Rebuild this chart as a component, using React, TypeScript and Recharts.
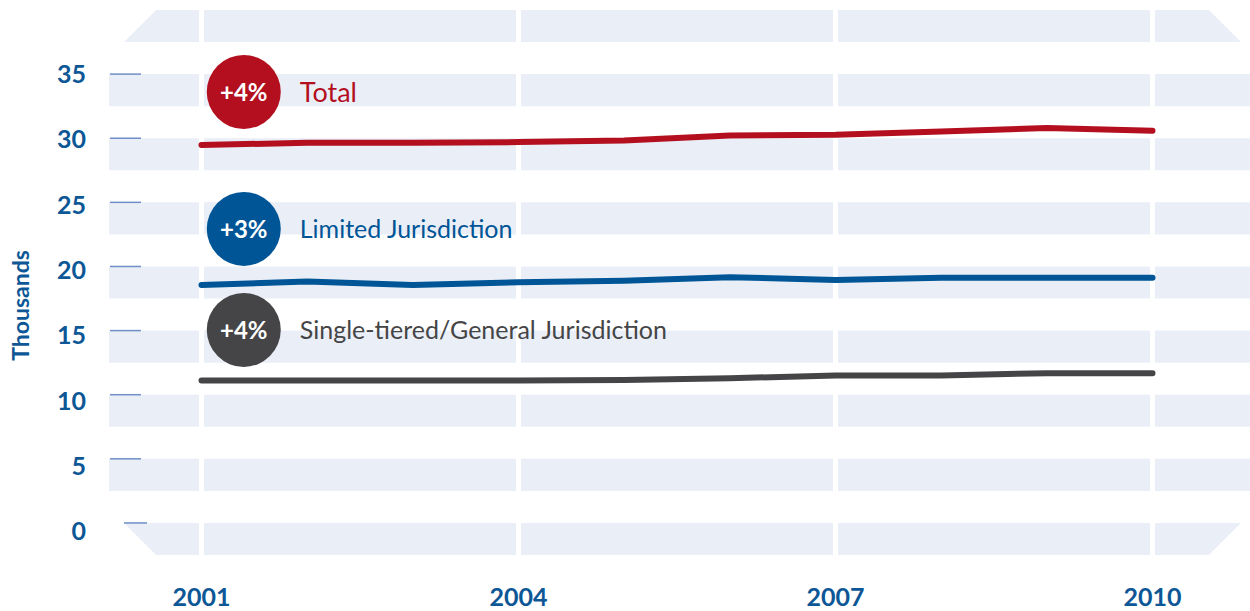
import React from 'react';
import {
  LineChart, Line, XAxis, YAxis, ReferenceArea, ReferenceLine, ReferenceDot,
} from 'recharts';

const years = [2001, 2002, 2003, 2004, 2005, 2006, 2007, 2008, 2009, 2010];
const totalValues = [29.48, 29.64, 29.64, 29.7, 29.82, 30.21, 30.27, 30.52, 30.79, 30.58];
const limitedValues = [18.56, 18.82, 18.56, 18.77, 18.88, 19.16, 18.95, 19.13, 19.13, 19.13];
const singleValues = [11.1, 11.1, 11.1, 11.1, 11.15, 11.29, 11.49, 11.49, 11.68, 11.68];

const yTicks = [0, 5, 10, 15, 20, 25, 30, 35];
const bandTops = [0, 5, 10, 15, 20, 25, 30, 35, 40];
const xTicks = [2001, 2004, 2007, 2010];

const seriesNames = ['Total', 'Limited Jurisdiction', 'Single-tiered/General Jurisdiction'];
const seriesChanges = ['+4%', '+3%', '+4%'];
const seriesKeys = ['total', 'limited', 'single'];
const seriesColors = ['#B30F1F', '#005596', '#454547'];
// annotation anchor positions (data coordinates)
const badgeX = 2001.4;
const badgeY = [33.61, 22.93, 15.05];

const data = years.map((y, i) => ({
  year: y,
  total: totalValues[i],
  limited: limitedValues[i],
  single: singleValues[i],
}));

const BAND = '#EAEFF7';
const AXIS_BLUE = '#0D5796';
const FONT = 'Lato, "Noto Sans", sans-serif';

const makeBandShape = (top: number) => (props: any) => {
  const { x, y, width, height } = props;
  const l = x, r = x + width, t = y, b = y + height;
  let pts: string;
  if (top === 40) {
    pts = `${l + 15 + height},${t} ${r - 9 - height},${t} ${r - 9},${b} ${l + 15},${b}`;
  } else if (top === 0) {
    pts = `${l + 15},${t} ${r - 9},${t} ${r - 9 - height},${b} ${l + 15 + height},${b}`;
  } else {
    pts = `${l},${t} ${r},${t} ${r},${b} ${l},${b}`;
  }
  return <polygon points={pts} fill={BAND} stroke="none" />;
};

const YTick = (props: any) => {
  const { x, y, payload } = props;
  const isZero = payload.value === 0;
  const labelShift = ((35 - payload.value) / 5) * 1.2;
  return (
    <g>
      <line
        x1={x + (isZero ? 38 : 24)}
        x2={x + (isZero ? 61 : 55)}
        y1={y}
        y2={y}
        stroke="#6F8FC6"
        strokeWidth={1.5}
      />
      <text
        x={x}
        y={y + labelShift}
        dy="0.36em"
        textAnchor="end"
        fill={AXIS_BLUE}
        fontFamily={FONT}
        fontWeight={700}
        fontSize={25}
      >
        {payload.value}
      </text>
    </g>
  );
};

const XTick = (props: any) => {
  const { x, y, payload } = props;
  return (
    <text
      x={x}
      y={y}
      dy="0.72em"
      textAnchor="middle"
      fill={AXIS_BLUE}
      fontFamily={FONT}
      fontWeight={700}
      fontSize={25}
    >
      {payload.value}
    </text>
  );
};

const makeBadge = (i: number) => (props: any) => {
  const { cx, cy } = props;
  return (
    <g>
      <circle cx={cx} cy={cy} r={37} fill={seriesColors[i]} />
      <text
        x={cx}
        y={cy}
        dy="0.36em"
        textAnchor="middle"
        fill="#fff"
        fontFamily={FONT}
        fontWeight={700}
        fontSize={24}
      >
        {seriesChanges[i]}
      </text>
      <text
        x={cx + 56}
        y={cy}
        dy="0.36em"
        textAnchor="start"
        fill={seriesColors[i]}
        fontFamily={FONT}
        fontSize={i === 0 ? 27 : 25}
      >
        {seriesNames[i]}
      </text>
    </g>
  );
};

const YLabel = (props: any) => {
  const { viewBox } = props;
  const cx = viewBox.x + 11;
  const cy = viewBox.y + viewBox.height / 2 + 23;
  return (
    <text
      x={cx}
      y={cy}
      transform={`rotate(-90 ${cx} ${cy})`}
      textAnchor="middle"
      dominantBaseline="central"
      fill={AXIS_BLUE}
      fontFamily={FONT}
      fontWeight={700}
      fontSize={23}
    >
      Thousands
    </text>
  );
};

export default function App() {
  return (
    <div style={{ position: 'absolute', left: 0, top: 0, width: 1250, height: 611, background: '#fff' }}>
      <LineChart
        width={1250}
        height={611}
        data={data}
        margin={{ top: 10, right: 0, bottom: 0, left: 9 }}
      >
        <XAxis
          dataKey="year"
          type="number"
          domain={[2000.1246, 2010.9227]}
          ticks={xTicks}
          axisLine={false}
          tickLine={false}
          tickSize={0}
          tickMargin={33}
          height={56}
          tick={<XTick />}
          allowDataOverflow
        />
        <YAxis
          type="number"
          domain={[-2.5, 40]}
          ticks={yTicks}
          axisLine={false}
          tickLine={false}
          tickSize={0}
          tickMargin={23}
          width={100}
          tick={<YTick />}
          allowDataOverflow
          label={<YLabel />}
        />
        {bandTops.map((t) => (
          <ReferenceArea
            key={`band-${t}`}
            y1={t - 2.5}
            y2={t}
            shape={makeBandShape(t)}
            ifOverflow="visible"
          />
        ))}
        {xTicks.map((t) => (
          <ReferenceLine key={`gap-${t}`} x={t} stroke="#fff" strokeWidth={5} />
        ))}
        {seriesKeys.map((k, i) => (
          <Line
            key={k}
            dataKey={k}
            type="linear"
            stroke={seriesColors[i]}
            strokeWidth={6}
            strokeLinecap="round"
            strokeLinejoin="round"
            dot={false}
            activeDot={false}
            isAnimationActive={false}
          />
        ))}
        {seriesKeys.map((k, i) => (
          <ReferenceDot
            key={`badge-${k}`}
            x={badgeX}
            y={badgeY[i]}
            r={37}
            shape={makeBadge(i)}
            ifOverflow="visible"
          />
        ))}
      </LineChart>
    </div>
  );
}
